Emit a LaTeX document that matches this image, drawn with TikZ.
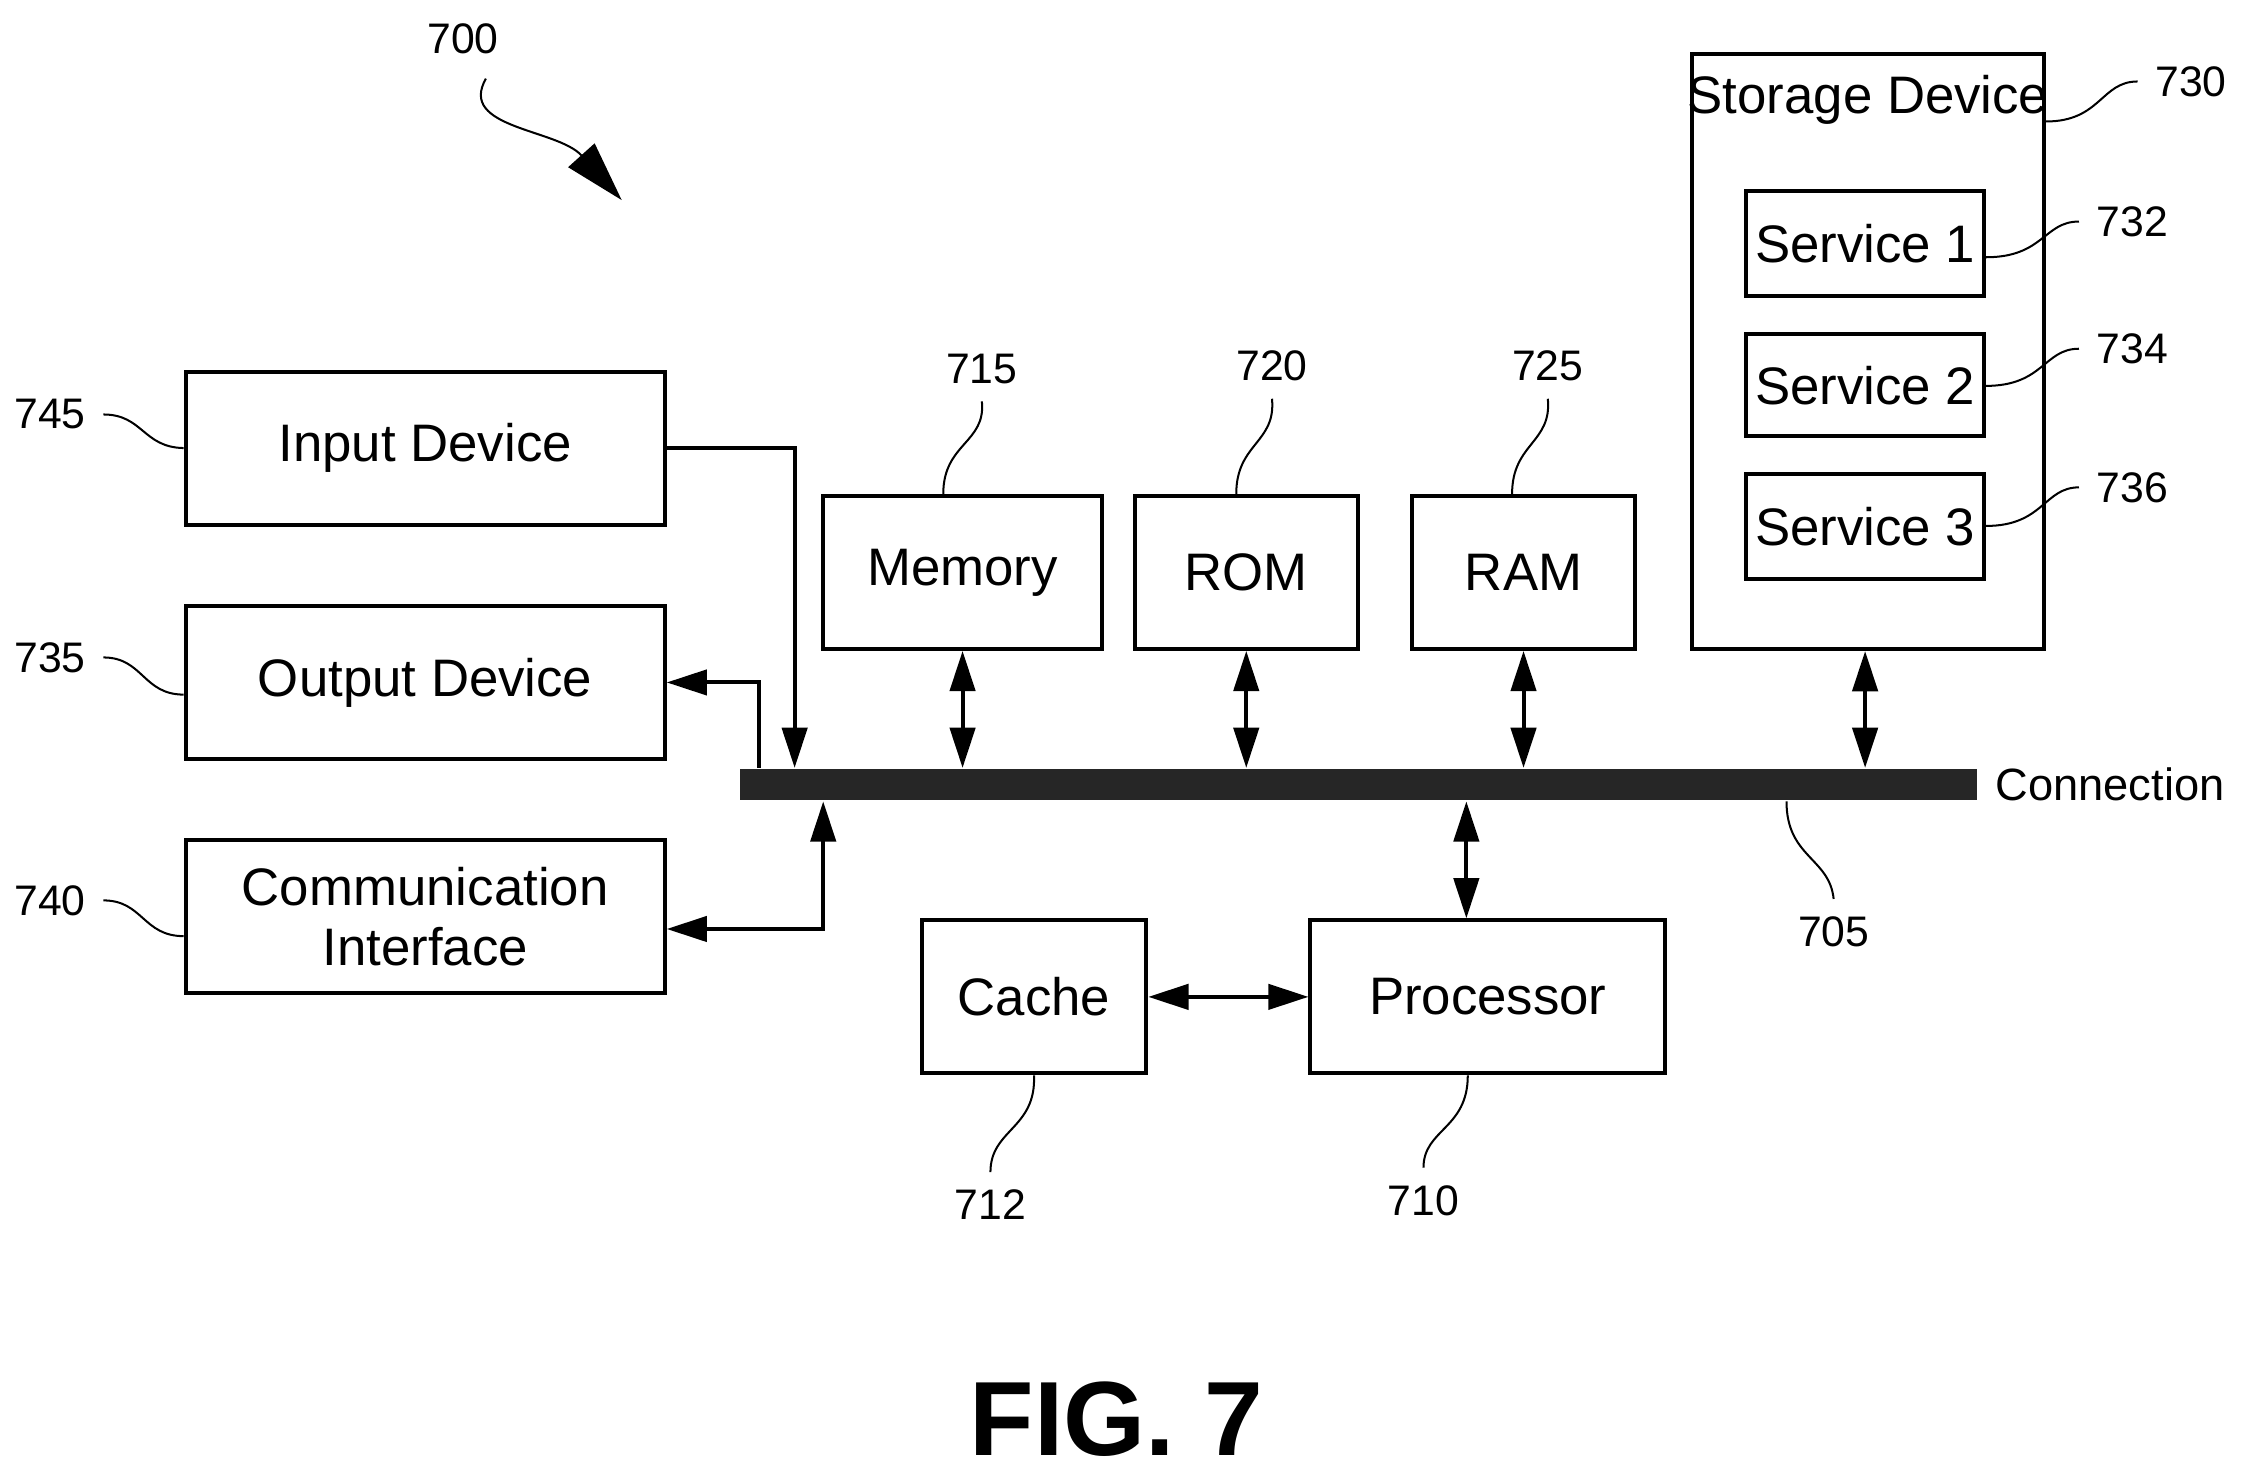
\documentclass[tikz,border=0pt]{standalone}
\usepackage{fontspec}
\setmainfont{Liberation Sans}
\usetikzlibrary{arrows.meta,calc}

\begin{document}
\begin{tikzpicture}[x=0.01cm, y=-0.01cm,
    block/.style={draw, thick, font=\fontsize{10.5}{12}\selectfont, align=center, inner sep=0pt},
    refnum/.style={font=\fontsize{8.5}{10}\selectfont},
    leader/.style={thin},
    link/.style={thick, -{Triangle[length=8pt,width=5pt]}},
    dlink/.style={thick, {Triangle[length=8pt,width=5pt]}-{Triangle[length=8pt,width=5pt]}}]
      \useasboundingbox (0,0) rectangle (1568,1030);

      % Peripheral devices on the left
      \node[block, minimum width=3.35cm, minimum height=1.07cm] (input) at (297.5,313.5) {Input Device};
      \node[block, minimum width=3.35cm, minimum height=1.07cm] (output) at (297.5,477.5) {Output Device};
      \node[block, minimum width=3.35cm, minimum height=1.07cm] (comm) at (297.5,641.5) {Communication\\Interface};

      % Memory blocks above the bus
      \node[block, minimum width=1.95cm, minimum height=1.07cm] (memory) at (673.5,400.5) {Memory};
      \node[block, minimum width=1.56cm, minimum height=1.07cm] (rom) at (872,400.5) {ROM};
      \node[block, minimum width=1.56cm, minimum height=1.07cm] (ram) at (1066,400.5) {RAM};

      % Storage device with its services
      \node[draw, thick, minimum width=2.46cm, minimum height=4.16cm] (storage) at (1307,246) {};
      \node[font=\fontsize{10.5}{12}\selectfont, anchor=north] (storagetitle) at (1307,40) {Storage Device};
      \node[block, minimum width=1.66cm, minimum height=0.73cm] (svc1) at (1305,170.5) {Service 1};
      \node[block, minimum width=1.66cm, minimum height=0.71cm] (svc2) at (1305,269.5) {Service 2};
      \node[block, minimum width=1.66cm, minimum height=0.73cm] (svc3) at (1305,368.5) {Service 3};

      % Connection bus
      \node[fill=black!85, minimum width=8.65cm, minimum height=0.22cm, inner sep=0pt] (bus) at (950.5,549) {};
      \node[font=\fontsize{9}{10}\selectfont, anchor=west] (buslabel) at (bus.east) {Connection};

      % Blocks below the bus
      \node[block, minimum width=1.57cm, minimum height=1.07cm] (cache) at (723.5,697.5) {Cache};
      \node[block, minimum width=2.48cm, minimum height=1.07cm] (proc) at (1041,697.5) {Processor};

      % Connections to the bus
      \draw[link] (input.east) -| (bus.north -| 556,0);
      \draw[link] (bus.north -| 531,0) |- (output.east);
      \draw[dlink] (comm.east |- 0,650) -| (bus.south -| 576,0);
      \draw[dlink] (memory.south) -- (bus.north -| memory.south);
      \draw[dlink] (rom.south) -- (bus.north -| rom.south);
      \draw[dlink] (ram.south) -- (bus.north -| ram.south);
      \draw[dlink] (storage.south -| 1305,0) -- (bus.north -| 1305,0);
      \draw[dlink] (bus.south -| 1026,0) -- (proc.north -| 1026,0);
      \draw[dlink] (cache.east) -- (proc.west);

      % Reference numerals
      \node[refnum] (n700) at (324,27) {700};
      \draw[thin, -{Triangle[length=12pt,width=7pt]}] (340,55) .. controls (320,90) and (390,90) .. (435,140);
      \node[refnum] (n745) at (35,290) {745};
      \draw[leader] (n745.east) .. controls (100,290) and (100,313) .. (input.west);
      \node[refnum] (n735) at (35,460) {735};
      \draw[leader] (n735.east) .. controls (100,460) and (100,486) .. (output.west |- 0,486);
      \node[refnum] (n740) at (35,630) {740};
      \draw[leader] (n740.east) .. controls (100,630) and (100,655) .. (comm.west |- 0,655);
      \node[refnum] (n715) at (687,258) {715};
      \draw[leader] (n715.south) .. controls (690,310) and (660,310) .. (memory.north -| 660,0);
      \node[refnum] (n720) at (890,256) {720};
      \draw[leader] (n720.south) .. controls (893,310) and (865,310) .. (rom.north -| 865,0);
      \node[refnum] (n725) at (1083,256) {725};
      \draw[leader] (n725.south) .. controls (1086,310) and (1058,310) .. (ram.north -| 1058,0);
      \node[refnum] (n730) at (1533,57) {730};
      \draw[leader] (n730.west) .. controls (1470,57) and (1470,85) .. (storage.east |- 0,85);
      \node[refnum] (n732) at (1492,155) {732};
      \draw[leader] (n732.west) .. controls (1430,155) and (1430,180) .. (svc1.east |- 0,180);
      \node[refnum] (n734) at (1492,244) {734};
      \draw[leader] (n734.west) .. controls (1430,244) and (1430,270) .. (svc2.east |- 0,270);
      \node[refnum] (n736) at (1492,341) {736};
      \draw[leader] (n736.west) .. controls (1430,341) and (1430,368) .. (svc3.east |- 0,368);
      \node[refnum] (n705) at (1283,652) {705};
      \draw[leader] (bus.south -| 1250,0) .. controls (1250,600) and (1280,600) .. (n705.north);
      \node[refnum] (n712) at (693,843) {712};
      \draw[leader] (cache.south) .. controls (725,790) and (693,790) .. (n712.north);
      \node[refnum] (n710) at (996,840) {710};
      \draw[leader] (proc.south -| 1027,0) .. controls (1027,790) and (996,790) .. (n710.north);

      % Figure caption
      \node[font=\bfseries\fontsize{21}{24}\selectfont] (caption) at (781,993) {FIG. 7};
\end{tikzpicture}
\end{document}
